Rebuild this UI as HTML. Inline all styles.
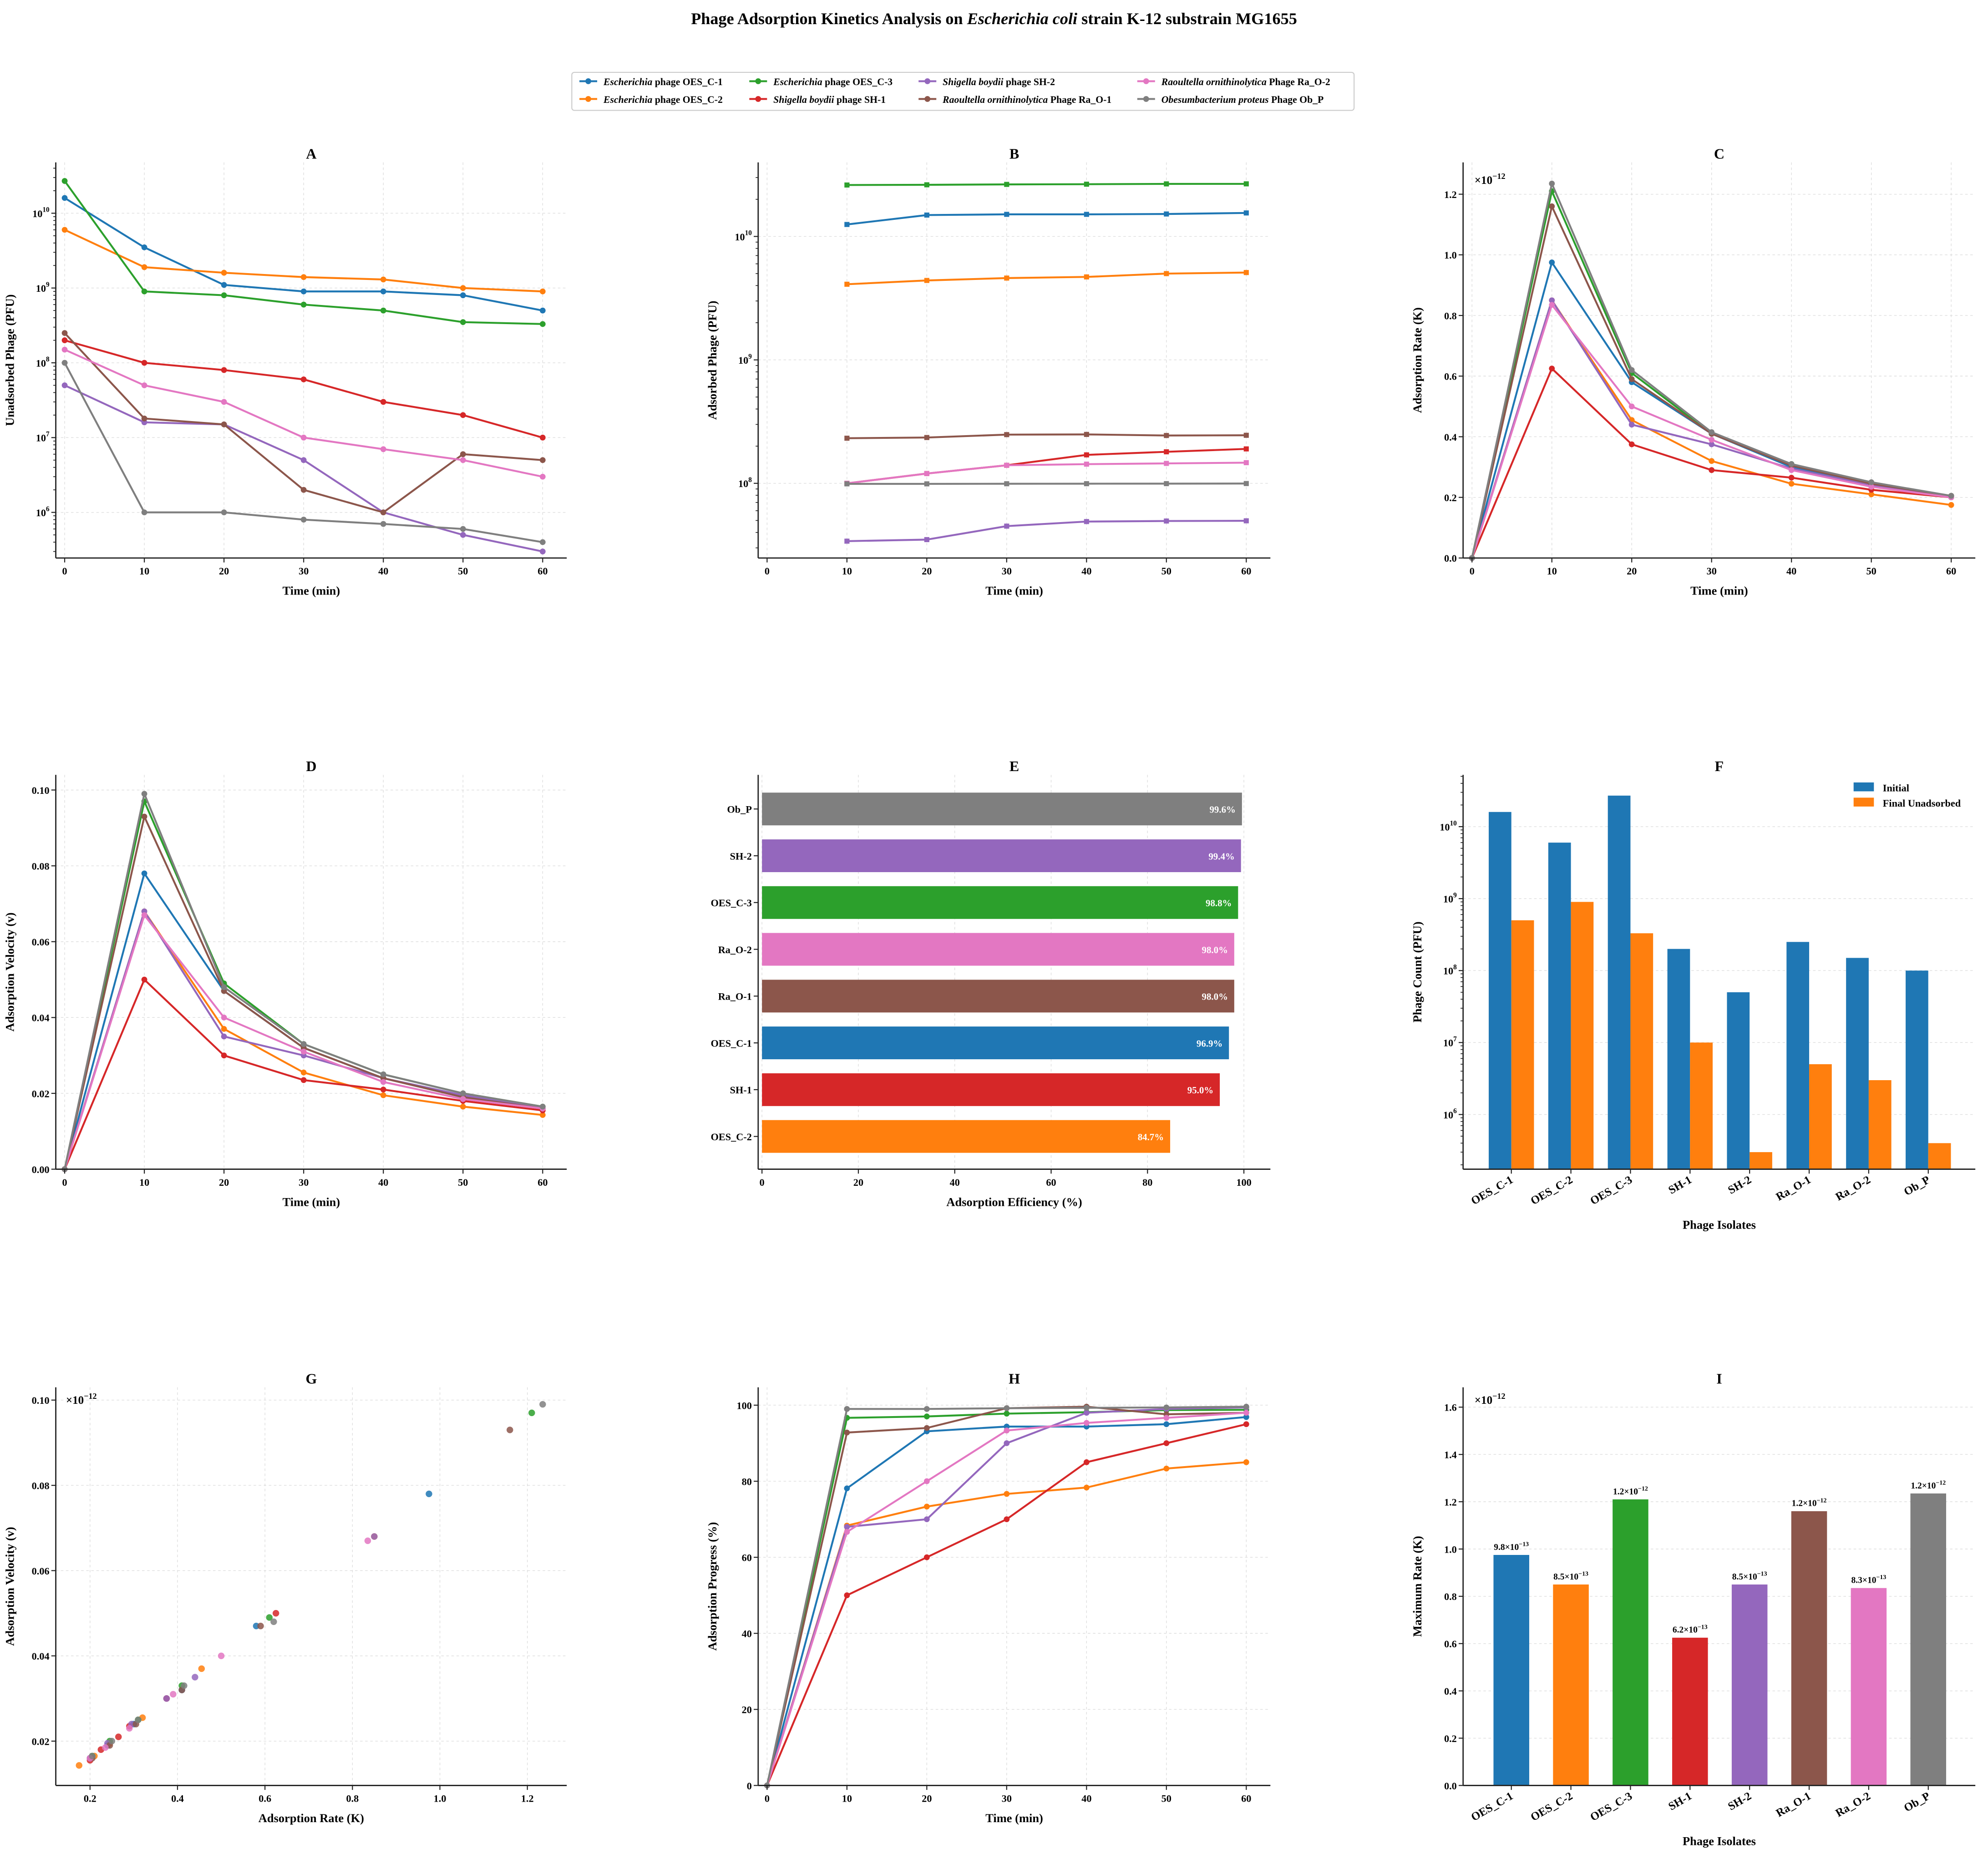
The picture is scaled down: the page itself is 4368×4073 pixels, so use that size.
<!DOCTYPE html>
<html><head><meta charset="utf-8"><style>
html,body{margin:0;padding:0;background:#fff;}
svg{display:block;font-family:"Liberation Serif","DejaVu Serif",serif;}
</style></head><body>
<svg id="fig" xmlns="http://www.w3.org/2000/svg" width="4368" height="4073" viewBox="0 0 1568 1462">
<rect x="0" y="0" width="1568" height="1462" fill="#fff"/>
<text x="784" y="19" text-anchor="middle" font-size="13" font-weight="bold">Phage Adsorption Kinetics Analysis on <tspan font-style="italic">Escherichia coli</tspan> strain K-12 substrain MG1655</text>
<g id="legend">
<rect x="451" y="57" width="617" height="30" fill="#fff" stroke="#ccc" stroke-width="0.8" rx="2"/>
</g>
</svg>
<script>
const phages = ["OES_C-1","OES_C-2","OES_C-3","SH-1","SH-2","Ra_O-1","Ra_O-2","Ob_P"];
const legendGenus = ["Escherichia","Escherichia","Escherichia","Shigella boydii","Shigella boydii","Raoultella ornithinolytica","Raoultella ornithinolytica","Obesumbacterium proteus"];
const legendRest = [" phage OES_C-1"," phage OES_C-2"," phage OES_C-3"," phage SH-1"," phage SH-2"," Phage Ra_O-1"," Phage Ra_O-2"," Phage Ob_P"];
const colors = ["#1f77b4","#ff7f0e","#2ca02c","#d62728","#9467bd","#8c564b","#e377c2","#7f7f7f"];
const times = [0,10,20,30,40,50,60];
// Unadsorbed phage (PFU)
const unC1 = [1.6e10,3.5e9,1.1e9,9e8,9e8,8e8,5e8];
const unC2 = [6e9,1.9e9,1.6e9,1.4e9,1.3e9,1e9,9e8];
const unC3 = [2.7e10,9e8,8e8,6e8,5e8,3.5e8,3.3e8];
const unSH1 = [2e8,1e8,8e7,6e7,3e7,2e7,1e7];
const unSH2 = [5e7,1.6e7,1.5e7,5e6,1e6,5e5,3e5];
const unRa1 = [2.5e8,1.8e7,1.5e7,2e6,1e6,6e6,5e6];
const unRa2 = [1.5e8,5e7,3e7,1e7,7e6,5e6,3e6];
const unOb = [1e8,1e6,1e6,8e5,7e5,6e5,4e5];
// Adsorption rate K (x1e-12)
const kC1 = [0,0.975,0.58,0.41,0.30,0.24,0.20];
const kC2 = [0,0.85,0.455,0.32,0.245,0.21,0.175];
const kC3 = [0,1.21,0.61,0.41,0.31,0.245,0.205];
const kSH1 = [0,0.625,0.375,0.29,0.265,0.225,0.20];
const kSH2 = [0,0.85,0.44,0.375,0.295,0.24,0.20];
const kRa1 = [0,1.16,0.59,0.41,0.305,0.245,0.205];
const kRa2 = [0,0.835,0.50,0.39,0.29,0.235,0.20];
const kOb = [0,1.235,0.62,0.415,0.31,0.25,0.205];
// Adsorption velocity v
const vC1 = [0,0.078,0.047,0.032,0.024,0.019,0.016];
const vC2 = [0,0.068,0.037,0.0255,0.0195,0.0165,0.0143];
const vC3 = [0,0.097,0.049,0.033,0.025,0.020,0.0165];
const vSH1 = [0,0.050,0.030,0.0235,0.021,0.018,0.0155];
const vSH2 = [0,0.068,0.035,0.030,0.024,0.0195,0.016];
const vRa1 = [0,0.093,0.047,0.032,0.024,0.019,0.016];
const vRa2 = [0,0.067,0.040,0.031,0.023,0.0185,0.016];
const vOb = [0,0.099,0.048,0.033,0.025,0.020,0.0165];
// Efficiency panel E
const effCats = ["OES_C-2","SH-1","OES_C-1","Ra_O-1","Ra_O-2","OES_C-3","SH-2","Ob_P"];
const effVals = [84.7,95.0,96.9,98.0,98.0,98.8,99.4,99.6];
const effColorIdx = [1,3,0,5,6,2,4,7];
// Max rate labels panel I
const maxRateLabels = [["9.8","13"],["8.5","13"],["1.2","12"],["6.2","13"],["8.5","13"],["1.2","12"],["8.3","13"],["1.2","12"]];

const UN = [unC1,unC2,unC3,unSH1,unSH2,unRa1,unRa2,unOb];
const KK = [kC1,kC2,kC3,kSH1,kSH2,kRa1,kRa2,kOb];
const VV = [vC1,vC2,vC3,vSH1,vSH2,vRa1,vRa2,vOb];

const NS="http://www.w3.org/2000/svg";
const fig=document.getElementById('fig');
function mk(tag,attrs,parent){const e=document.createElementNS(NS,tag);for(const k in attrs)e.setAttribute(k,attrs[k]);(parent||fig).appendChild(e);return e;}

// legend
const leg=document.getElementById('legend');
const legCols=[464,598,731.5,904];
for(let i=0;i<8;i++){
  const col=Math.floor(i/2), row=i%2;
  const x=legCols[col], y=row?78:64;
  const g=mk('g',{},leg);
  
  
  mk('line',{x1:x-7,x2:x+7,y1:y,y2:y,stroke:colors[i],'stroke-width':1.5},g);
  mk('circle',{cx:x,cy:y,r:2.3,fill:colors[i]},g);
  const t=mk('text',{x:x+12,y:y+3,'font-size':7.8,'font-weight':'bold'},g);
  const a=mk('tspan',{'font-style':'italic'},t);a.textContent=legendGenus[i];
  const b=mk('tspan',{},t);b.textContent=legendRest[i];
}

function axes(name,L,R,T,B,xmin,xmax,ymin,ymax,ylog){
  const g=mk('g',{});
  
  
  const sx=v=>L+(v-xmin)/(xmax-xmin)*(R-L);
  const sy=v=>{const u=ylog?Math.log10(v):v;return B-(u-ymin)/(ymax-ymin)*(B-T);};
  return {g,L,R,T,B,sx,sy};
}
function grid(a,xt,yt){
  xt.forEach(v=>{const x=a.sx(v);mk('line',{x1:x,x2:x,y1:a.T,y2:a.B,stroke:'#ddd','stroke-width':0.5,'stroke-dasharray':'2,2'},a.g);});
  yt.forEach(v=>{const y=a.sy(v);mk('line',{x1:a.L,x2:a.R,y1:y,y2:y,stroke:'#ddd','stroke-width':0.5,'stroke-dasharray':'2,2'},a.g);});
}
function spines(a){
  mk('line',{x1:a.L,x2:a.L,y1:a.T,y2:a.B,stroke:'#222','stroke-width':1},a.g);
  mk('line',{x1:a.L,x2:a.R,y1:a.B,y2:a.B,stroke:'#222','stroke-width':1},a.g);
}
function xticks(a,vals,labels,rot){
  vals.forEach((v,i)=>{const x=a.sx(v);
    mk('line',{x1:x,x2:x,y1:a.B,y2:a.B+3.5,stroke:'#222','stroke-width':0.8},a.g);
    const t=mk('text',{'font-size':8,'font-weight':'bold'},a.g);
    if(rot){t.setAttribute('font-size',9);t.setAttribute('x',x+2);t.setAttribute('y',a.B+10);t.setAttribute('text-anchor','end');t.setAttribute('transform','rotate(-30 '+(x+2)+' '+(a.B+10)+')');}
    else{t.setAttribute('x',x);t.setAttribute('y',a.B+13);t.setAttribute('text-anchor','middle');}
    t.textContent=labels?labels[i]:String(v);});
}
function yticks(a,vals,fmt){
  vals.forEach(v=>{const y=a.sy(v);
    mk('line',{x1:a.L-3.5,x2:a.L,y1:y,y2:y,stroke:'#222','stroke-width':0.8},a.g);
    const t=mk('text',{x:a.L-5,y:y+3,'text-anchor':'end','font-size':8,'font-weight':'bold'},a.g);
    t.textContent=fmt(v);});
}
function ylogticks(a,lo,hi){
  for(let e=lo;e<=hi;e++){
    const y=a.sy(Math.pow(10,e));
    mk('line',{x1:a.L-3.5,x2:a.L,y1:y,y2:y,stroke:'#222','stroke-width':0.8},a.g);
    const t=mk('text',{x:a.L-5,y:y+3,'text-anchor':'end','font-size':8,'font-weight':'bold'},a.g);
    const b=mk('tspan',{},t);b.textContent='10';
    const s=mk('tspan',{'font-size':5.5,dy:-4},t);s.textContent=String(e);
  }
  for(let e=lo-1;e<=hi;e++)for(let m=2;m<10;m++){
    const v=m*Math.pow(10,e), y=a.sy(v);
    if(y<a.T||y>a.B)continue;
    mk('line',{x1:a.L-2,x2:a.L,y1:y,y2:y,stroke:'#222','stroke-width':0.6},a.g);
  }
}
function labels(a,title,xl,yl){
  const cx=(a.L+a.R)/2;
  let t=mk('text',{x:cx,y:a.T-3,'text-anchor':'middle','font-size':11.5,'font-weight':'bold'},a.g);t.textContent=title;
  if(xl){t=mk('text',{x:cx,y:a.B+29,'text-anchor':'middle','font-size':9.5,'font-weight':'bold'},a.g);t.textContent=xl;}
  if(xl==='Phage Isolates'){t.setAttribute('y',a.B+47);}
  if(yl){const x=a.L-33,y=(a.T+a.B)/2;t=mk('text',{x:x,y:y,'text-anchor':'middle','font-size':9.5,'font-weight':'bold',transform:'rotate(-90 '+x+' '+y+')'},a.g);t.textContent=yl;}
}
function mult(a,x,y){const t=mk('text',{x:x,y:y,'font-size':9,'font-weight':'bold'},a.g);const b=mk('tspan',{},t);b.textContent='×10';const s=mk('tspan',{'font-size':6.5,dy:-4},t);s.textContent='−12';}
function series(a,xs,ys,i,name,marker){
  const g=mk('g',{},a.g);
  
  
  const pts=xs.map((x,k)=>a.sx(x).toFixed(2)+','+a.sy(ys[k]).toFixed(2)).join(' ');
  mk('polyline',{points:pts,fill:'none',stroke:colors[i],'stroke-width':1.5},g);
  xs.forEach((x,k)=>{const px=a.sx(x),py=a.sy(ys[k]);
    if(marker==='s')mk('rect',{x:px-2,y:py-2,width:4,height:4,fill:colors[i]},g);
    else mk('circle',{cx:px,cy:py,r:2.3,fill:colors[i]},g);});
}
const tX=[0,10,20,30,40,50,60];
const tMin=-1.114,tMax=63.02;
const slug=i=>phages[i].toLowerCase().replace('_','-');

// A
{const a=axes('a',44,447,128,440,tMin,tMax,5.39,10.68,true);
grid(a,tX,[1e6,1e7,1e8,1e9,1e10]);
for(let i=0;i<8;i++)series(a,times,UN[i],i,'line-a-'+slug(i),'o');
spines(a);xticks(a,tX);ylogticks(a,6,10);labels(a,'A','Time (min)','Unadsorbed Phage (PFU)');}
// B
{const a=axes('b',598,1002,128,440,tMin,tMax,7.395,10.6,true);
grid(a,tX,[1e8,1e9,1e10]);
for(let i=0;i<8;i++){const xs=times.slice(1);const ys=UN[i].slice(1).map(u=>UN[i][0]-u);series(a,xs,ys,i,'line-b-'+slug(i),'s');}
spines(a);xticks(a,tX);ylogticks(a,8,10);labels(a,'B','Time (min)','Adsorbed Phage (PFU)');}
// C
{const a=axes('c',1154,1558,128,440,tMin,tMax,0,1.305,false);
const yt=[0,0.2,0.4,0.6,0.8,1.0,1.2];grid(a,tX,yt);
for(let i=0;i<8;i++)series(a,times,KK[i],i,'line-c-'+slug(i),'o');
spines(a);xticks(a,tX);yticks(a,yt,v=>v.toFixed(1));labels(a,'C','Time (min)','Adsorption Rate (K)');mult(a,1163,145);}
// D
{const a=axes('d',44,447,611,922,tMin,tMax,0,0.104,false);
const yt=[0,0.02,0.04,0.06,0.08,0.10];grid(a,tX,yt);
for(let i=0;i<8;i++)series(a,times,VV[i],i,'line-d-'+slug(i),'o');
spines(a);xticks(a,tX);yticks(a,yt,v=>v.toFixed(2));labels(a,'D','Time (min)','Adsorption Velocity (v)');}
// E
{const a=axes('e',598,1002,611,922,-0.79,105.5,-0.70,7.73,false);
const xt=[0,20,40,60,80,100];grid(a,xt,[]);
effVals.forEach((v,k)=>{const y=a.sy(k),h=0.7*(a.sy(0)-a.sy(1));
  const r=mk('rect',{x:a.sx(0),y:y-h/2,width:a.sx(v)-a.sx(0),height:h,fill:colors[effColorIdx[k]]},a.g);
  
  
  const t=mk('text',{x:a.sx(v)-5,y:y+3,'text-anchor':'end','font-size':7.5,'font-weight':'bold',fill:'#fff'},a.g);t.textContent=v.toFixed(1)+'%';
  mk('line',{x1:a.L-3.5,x2:a.L,y1:y,y2:y,stroke:'#222','stroke-width':0.8},a.g);
  const l=mk('text',{x:a.L-5,y:y+3,'text-anchor':'end','font-size':8,'font-weight':'bold'},a.g);l.textContent=effCats[k];});
spines(a);xticks(a,xt);labels(a,'E','Adsorption Efficiency (%)',null);}
// F
{const a=axes('f',1154,1558,611,922,-0.81,7.79,5.24,10.72,true);
grid(a,[],[1e6,1e7,1e8,1e9,1e10]);
const w=0.38,bw=a.sx(w)-a.sx(0);
for(let i=0;i<8;i++){
  const xi=a.sx(i-w/2)-bw/2, xf=a.sx(i+w/2)-bw/2;
  const r1=mk('rect',{x:xi,y:a.sy(UN[i][0]),width:bw,height:a.B-a.sy(UN[i][0]),fill:colors[0]},a.g);
  
  
  const r2=mk('rect',{x:xf,y:a.sy(UN[i][6]),width:bw,height:a.B-a.sy(UN[i][6]),fill:colors[1]},a.g);
  
  
}
spines(a);xticks(a,[0,1,2,3,4,5,6,7],phages,true);ylogticks(a,6,10);labels(a,'F','Phage Isolates','Phage Count (PFU)');
const lg=mk('g',{},a.g);


mk('rect',{x:1462,y:617,width:16,height:7,fill:colors[0]},lg);
mk('rect',{x:1462,y:629,width:16,height:7,fill:colors[1]},lg);
let t=mk('text',{x:1485,y:624,'font-size':8,'font-weight':'bold'},lg);t.textContent='Initial';
t=mk('text',{x:1485,y:636,'font-size':8,'font-weight':'bold'},lg);t.textContent='Final Unadsorbed';}
// G
{const a=axes('g',44,447,1094,1408,0.1217,1.29,0.0096,0.103,false);
const xt=[0.2,0.4,0.6,0.8,1.0,1.2],yt=[0.02,0.04,0.06,0.08,0.10];grid(a,xt,yt);
for(let i=0;i<8;i++)for(let k=1;k<7;k++){
  const c=mk('circle',{cx:a.sx(KK[i][k]),cy:a.sy(VV[i][k]),r:2.6,fill:colors[i],'fill-opacity':0.85},a.g);
  
  
}
spines(a);xticks(a,xt,xt.map(v=>v.toFixed(1)));yticks(a,yt,v=>v.toFixed(2));labels(a,'G','Adsorption Rate (K)','Adsorption Velocity (v)');mult(a,52,1107);}
// H
{const a=axes('h',598,1002,1094,1408,tMin,tMax,0,104.7,false);
const yt=[0,20,40,60,80,100];grid(a,tX,yt);
for(let i=0;i<8;i++){const ys=UN[i].map(u=>(1-u/UN[i][0])*100);series(a,times,ys,i,'line-h-'+slug(i),'o');}
spines(a);xticks(a,tX);yticks(a,yt,v=>String(v));labels(a,'H','Time (min)','Adsorption Progress (%)');}
// I
{const a=axes('i',1154,1558,1094,1408,-0.81,7.79,0,1.684,false);
const yt=[0,0.2,0.4,0.6,0.8,1.0,1.2,1.4,1.6];grid(a,[],yt);
const bw=a.sx(0.6)-a.sx(0);
for(let i=0;i<8;i++){const m=Math.max(...KK[i]);
  const r=mk('rect',{x:a.sx(i)-bw/2,y:a.sy(m),width:bw,height:a.B-a.sy(m),fill:colors[i]},a.g);
  
  
  const t=mk('text',{x:a.sx(i),y:a.sy(m)-4,'text-anchor':'middle','font-size':7,'font-weight':'bold'},a.g);
  const b=mk('tspan',{},t);b.textContent=maxRateLabels[i][0]+'×10';
  const s=mk('tspan',{'font-size':5,dy:-3},t);s.textContent='−'+maxRateLabels[i][1];}
spines(a);xticks(a,[0,1,2,3,4,5,6,7],phages,true);yticks(a,yt,v=>v.toFixed(1));labels(a,'I','Phage Isolates','Maximum Rate (K)');mult(a,1163,1107);}
</script>
</body></html>
